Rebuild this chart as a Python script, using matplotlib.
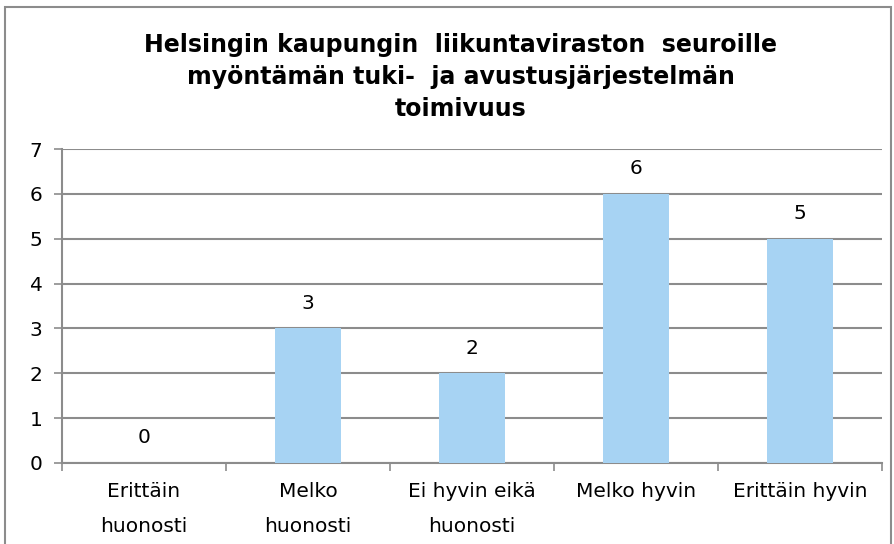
import matplotlib
matplotlib.use("Agg")
import matplotlib.pyplot as plt
from matplotlib.patches import Rectangle
import numpy as np

# data
categories = ["Erittäin\nhuonosti", "Melko\nhuonosti", "Ei hyvin eikä\nhuonosti",
              "Melko hyvin", "Erittäin hyvin"]
counts = [0, 3, 2, 6, 5]
title = ("Helsingin kaupungin  liikuntaviraston  seuroille\n"
         "myöntämän tuki-  ja avustusjärjestelmän\n"
         "toimivuus")

plt.rcParams['font.family'] = ['DejaVu Sans']

fig = plt.figure(figsize=(8.95, 5.44), dpi=100)
ax = fig.add_axes([0.0693, 0.1489, 0.9162, 0.5772])

grid_col = "#8c8c8c"
x = np.arange(len(categories))
ax.bar(x, counts, width=0.4, color="#a7d3f3", zorder=3)

for xi, v in zip(x, counts):
    ax.text(xi, v + 0.35, str(v), ha="center", va="bottom", fontsize=14.5)

ax.set_xlim(-0.5, len(categories) - 0.5)
ax.set_ylim(0, 7)
ax.set_yticks(range(0, 8))
ax.tick_params(axis="y", labelsize=14.5, length=6, color=grid_col, width=1.2, pad=8)
ax.yaxis.grid(True, color=grid_col, linewidth=1.5, zorder=0)

ax.set_xticks(np.arange(-0.5, len(categories), 1.0))
ax.set_xticklabels([])
ax.set_xticks(x, minor=True)
ax.set_xticklabels(categories, minor=True, fontsize=14.5, linespacing=2.05)
ax.tick_params(axis="x", which="major", length=6, color=grid_col, width=1.2)
ax.tick_params(axis="x", which="minor", length=0, pad=14)

for side in ["top", "right"]:
    ax.spines[side].set_visible(False)
for side in ["left", "bottom"]:
    ax.spines[side].set_color(grid_col)
    ax.spines[side].set_linewidth(1.5)
ax.set_axisbelow(True)

fig.text(0.515, 0.94, title, ha="center", va="top", fontsize=17,
         fontweight="bold", linespacing=1.42)

fig.patches.append(Rectangle((0.006, -0.01), 0.99, 0.998, transform=fig.transFigure,
                             fill=False, edgecolor="#8c8c8c", linewidth=1.5))

fig.savefig("out.png", dpi=100)
